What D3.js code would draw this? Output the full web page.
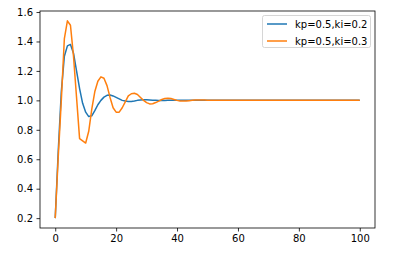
<!DOCTYPE html>
<html>
<head>
<meta charset="utf-8">
<script src="https://cdn.jsdelivr.net/npm/d3@7"></script>
<style>
  body { margin: 0; background: #fff; }
  text { font-family: "DejaVu Sans", sans-serif; font-size: 10px; fill: #000; }
  .line { fill: none; stroke-width: 1.5; stroke-linejoin: round; }
</style>
</head>
<body>
<div id="chart"></div>
<script>
// time steps
const time = [0, 1, 2, 3, 4, 5, 6, 7, 8, 9, 10, 11, 12, 13, 14, 15, 16, 17, 18, 19,
  20, 21, 22, 23, 24, 25, 26, 27, 28, 29, 30, 31, 32, 33, 34, 35, 36, 37, 38, 39,
  40, 41, 42, 43, 44, 45, 46, 47, 48, 49, 50, 60, 70, 80, 90, 100];

// kp=0.5, ki=0.2
const seriesA = [0.2, 0.66, 1.06, 1.3, 1.37, 1.38, 1.32, 1.2, 1.08, 0.98, 0.92, 0.89, 0.895, 0.93, 0.97, 1.0,
  1.022, 1.034, 1.036, 1.03, 1.02, 1.01, 1.0, 0.995, 0.992, 0.993, 0.996, 1.0, 1.003, 1.004,
  1.004, 1.003, 1.001, 1.0, 0.999, 0.999, 0.999, 1.0, 1.0, 1.0,
  1.0, 1.0, 1.0, 1.0, 1.0, 1.0, 1.0, 1.0, 1.0, 1.0, 1.0, 1.0, 1.0, 1.0, 1.0, 1.0];

// kp=0.5, ki=0.3
const seriesB = [0.2, 0.62, 1.0, 1.42, 1.54, 1.51, 1.3, 1.02, 0.74, 0.725, 0.71, 0.79, 0.94, 1.06, 1.13, 1.16,
  1.15, 1.1, 1.02, 0.95, 0.92, 0.92, 0.95, 0.99, 1.03, 1.045, 1.048, 1.04, 1.02, 1.0,
  0.985, 0.976, 0.977, 0.985, 0.995, 1.006, 1.013, 1.015, 1.012, 1.006,
  1.0, 0.996, 0.995, 0.996, 0.998, 1.0, 1.002, 1.003, 1.003, 1.002, 1.0, 1.0, 1.0, 1.0, 1.0, 1.0];

const labels = ["kp=0.5,ki=0.2", "kp=0.5,ki=0.3"];
const colors = ["#1f77b4", "#ff7f0e"];
const xTicks = [0, 20, 40, 60, 80, 100];
const yTicks = [0.2, 0.4, 0.6, 0.8, 1.0, 1.2, 1.4, 1.6];

const W = 402, H = 254;
const margin = {top: 11, right: 27, bottom: 26, left: 40},
    width = W - margin.left - margin.right,
    height = H - margin.top - margin.bottom;

const x = d3.scaleLinear().domain([-5, 105]).range([0, width]);
const y = d3.scaleLinear().domain([0.133, 1.607]).range([height, 0]);

const svg = d3.select("#chart").append("svg")
    .attr("width", W)
    .attr("height", H)
    .append("g")
    .attr("transform", "translate(" + margin.left + "," + margin.top + ")");

const line = d3.line()
    .x(d => x(d[0]))
    .y(d => y(d[1]));

[seriesA, seriesB].forEach(function(s, i) {
    svg.append("path")
        .datum(time.map((t, j) => [t, s[j]]))
        .attr("class", "line")
        .style("stroke", colors[i])
        .attr("d", line);
});

const xAxis = svg.append("g")
    .attr("transform", "translate(0," + height + ")")
    .call(d3.axisBottom(x).tickValues(xTicks).tickSize(3.5).tickPadding(3.5).tickFormat(d3.format("d")));

const yAxis = svg.append("g")
    .call(d3.axisLeft(y).tickValues(yTicks).tickSize(3.5).tickPadding(3.5).tickFormat(d3.format(".1f")));

[xAxis, yAxis].forEach(function(a) {
    a.select(".domain").remove();
    a.selectAll(".tick line").attr("stroke", "#000").attr("stroke-width", 0.8);
    a.selectAll("text").attr("font-family", null).attr("font-size", null);
});

svg.append("rect")
    .attr("x", 0).attr("y", 0)
    .attr("width", width).attr("height", height)
    .attr("fill", "none")
    .attr("stroke", "#000")
    .attr("stroke-width", 0.8);

// legend
const legend = svg.append("g")
    .attr("transform", "translate(" + (width - 113) + ",4)");

legend.append("rect")
    .attr("x", 0.5).attr("y", 0.5)
    .attr("width", 108).attr("height", 32)
    .attr("rx", 2)
    .attr("fill", "#fff")
    .attr("fill-opacity", 0.8)
    .attr("stroke", "#ccc")
    .attr("stroke-width", 0.8);

labels.forEach(function(l, i) {
    const g = legend.append("g").attr("transform", "translate(0," + (9 + i * 17) + ")");
    g.append("line")
        .attr("x1", 5).attr("x2", 25)
        .attr("stroke", colors[i])
        .attr("stroke-width", 1.5);
    g.append("text")
        .attr("x", 33)
        .attr("dy", "0.35em")
        .text(l);
});
</script>
</body>
</html>
